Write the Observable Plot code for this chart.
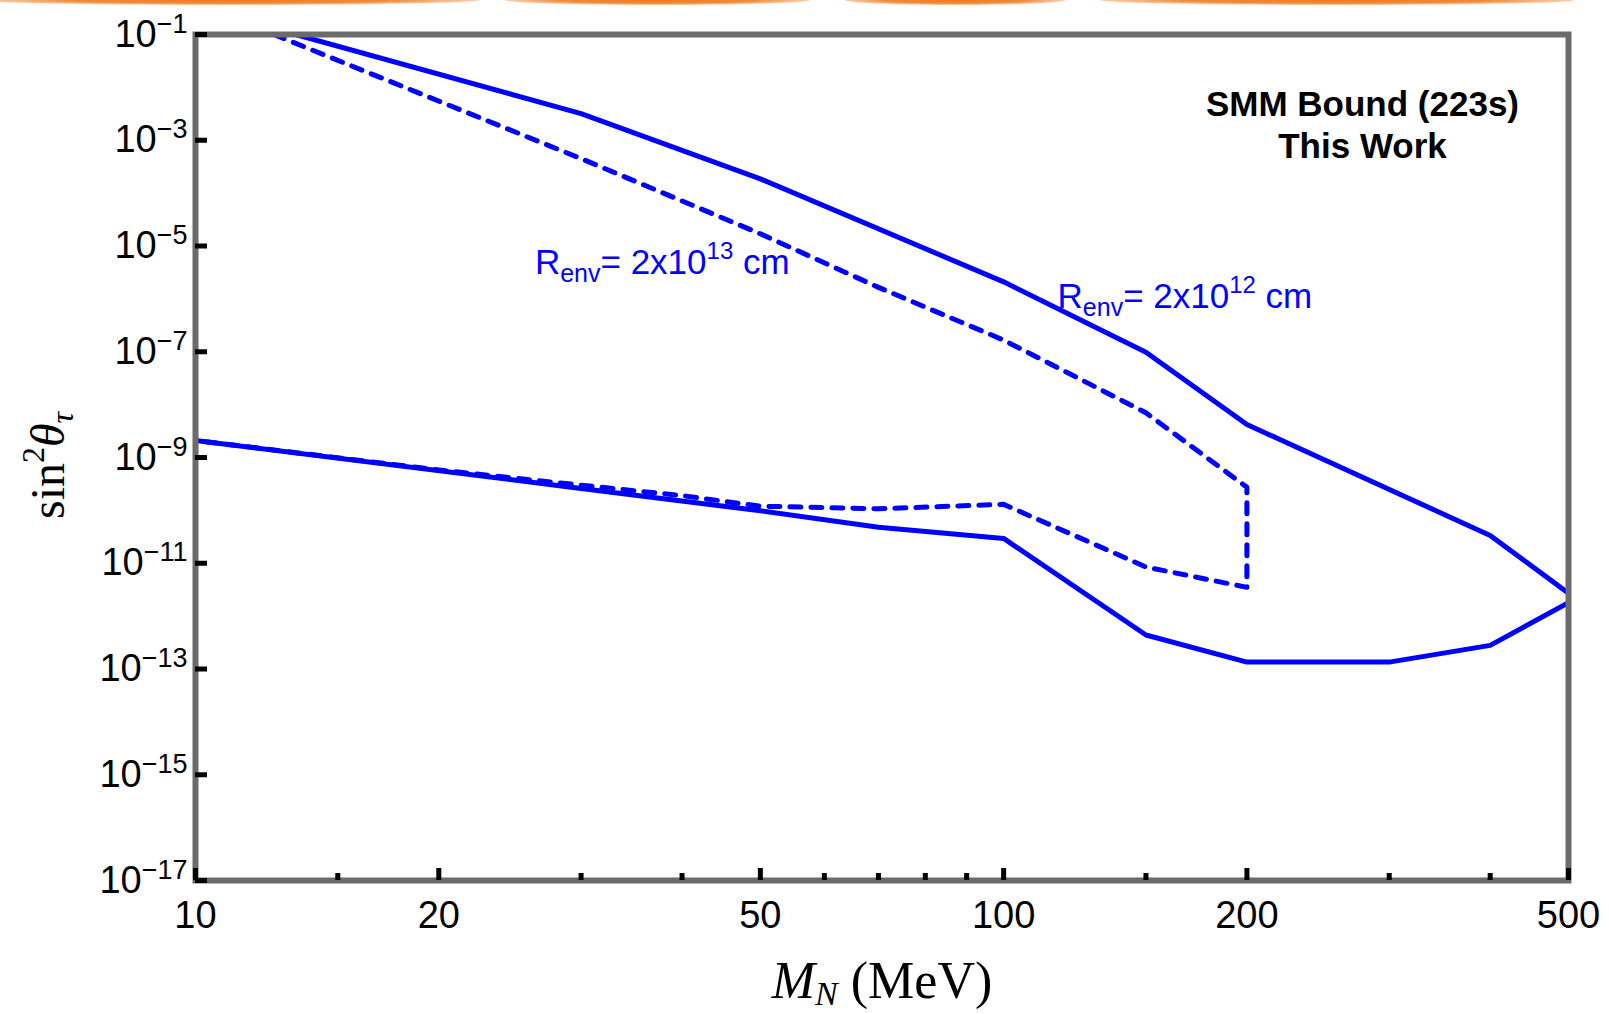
<!DOCTYPE html>
<html>
<head>
<meta charset="utf-8">
<script src="https://cdn.jsdelivr.net/npm/d3@7"></script>
<script src="https://cdn.jsdelivr.net/npm/@observablehq/plot@0.6"></script>
<style>
html, body { margin: 0; padding: 0; background: #fff; }
#wrap { position: relative; width: 1609px; height: 1014px; overflow: hidden; background: #fff; }
.orange { position: absolute; top: -5px; height: 10px; border-radius: 50%;
  background: radial-gradient(ellipse at center, #ef7a22 0%, #f08a3a 45%, rgba(245,150,80,0.35) 75%, rgba(255,255,255,0) 100%); }
</style>
</head>
<body>
<div id="wrap"></div>
<script>
// ---- data ----
// solid curve: R_env = 2x10^12 cm
const massSolidUpper = [13.3, 30, 50, 100, 150, 200, 400, 500];
const sinSolidUpper  = [1e-1, 3.2e-3, 1.86e-4, 2.1e-6, 9.8e-8, 4.2e-9, 3.35e-11, 2.7e-12];
const massSolidLower = [10, 30, 50, 70, 100, 150, 200, 300, 400, 500];
const sinSolidLower  = [2.1e-9, 2.6e-10, 9.8e-11, 4.8e-11, 2.95e-11, 4.4e-13, 1.35e-13, 1.35e-13, 2.8e-13, 1.8e-12];
// dashed curve: R_env = 2x10^13 cm (upper branch, vertical cut at 200, lower branch back to 10)
const massDashed = [12.5, 30, 50, 70, 100, 150, 200, 200, 150, 100, 70, 50, 40, 30, 20, 10];
const sinDashed  = [1e-1, 4.5e-4, 1.7e-5, 1.65e-6, 1.66e-7, 7e-9, 2.74e-10, 3.5e-12, 8.5e-12, 1.3e-10, 1.07e-10, 1.2e-10, 1.9e-10, 3e-10, 5.8e-10, 2.1e-9];

// axis ticks
const xMajor = [10, 20, 50, 100, 200, 500];
const xMinor = [15, 30, 40, 60, 70, 80, 90, 150, 300, 400];
const yTicks = [1e-1, 1e-3, 1e-5, 1e-7, 1e-9, 1e-11, 1e-13, 1e-15, 1e-17];

// annotations (data coordinates)
const smmLines = [
  {m: 278, s: 4.6e-3, t: "SMM Bound (223s)"},
  {m: 278, s: 7.4e-4, t: "This Work"}
];
const renvLabels = [
  {m: 26.3, s: 3.0e-6, exp: "13"},
  {m: 116.6, s: 6.6e-7, exp: "12"}
];

// ---- layout ----
const W = 1609, H = 1014;
const mT = 34, mR = 41, mB = 134, mL = 195;
const plotW = W - mL - mR, plotH = H - mT - mB;
const blue = "#0000ff";
const sans = "'Liberation Sans', Arial, Helvetica, sans-serif";
const serif = "'Liberation Serif', 'Times New Roman', serif";

const toRows = (xs, ys) => xs.map((m, i) => ({m, s: ys[i]}));

const chart = Plot.plot({
  width: W, height: H,
  marginTop: mT, marginRight: mR, marginBottom: mB, marginLeft: mL,
  style: {fontFamily: sans, background: "white", overflow: "visible", color: "black"},
  x: {type: "log", domain: [10, 500]},
  y: {type: "log", domain: [1e-17, 1e-1]},
  marks: [
    Plot.line(toRows(massSolidUpper, sinSolidUpper), {x: "m", y: "s", stroke: blue, strokeWidth: 5, clip: true}),
    Plot.line(toRows(massSolidLower, sinSolidLower), {x: "m", y: "s", stroke: blue, strokeWidth: 5, clip: true}),
    Plot.line(toRows(massDashed, sinDashed), {x: "m", y: "s", stroke: blue, strokeWidth: 5, strokeDasharray: "11,10", clip: true}),
    Plot.frame({stroke: "#6b6b6b", strokeWidth: 6}),
    Plot.tickX(xMajor, {x: d => d, stroke: "black", strokeWidth: 5, insetTop: plotH - 12}),
    Plot.tickX(xMinor, {x: d => d, stroke: "black", strokeWidth: 5, insetTop: plotH - 7}),
    Plot.tickY(yTicks, {y: d => d, stroke: "black", strokeWidth: 5, insetRight: plotW - 12}),
    Plot.axisX(xMajor, {tickSize: 0, tickPadding: 21, tickFormat: d => String(d), fontSize: 38, fontFamily: sans, label: null}),
    Plot.axisY(yTicks, {tickSize: 0, tickPadding: 8, tickFormat: d => "10^" + Math.round(Math.log10(d)), fontSize: 38, fontFamily: sans, label: null}),
    Plot.text(smmLines, {x: "m", y: "s", text: "t", fontSize: 35, fontWeight: "bold", fontFamily: sans, textAnchor: "middle", lineAnchor: "middle", fill: "black"}),
    Plot.text(renvLabels, {x: "m", y: "s", text: d => "Renv= 2x10^" + d.exp + " cm", fontSize: 35, fontFamily: sans, textAnchor: "start", lineAnchor: "bottom", fill: blue}),
    Plot.text(["M_N (MeV)"], {frameAnchor: "bottom", dy: 117, text: d => d, fontSize: 52, fontFamily: serif, textAnchor: "middle", lineAnchor: "bottom", fill: "black"}),
    Plot.text(["sin^2θ_τ"], {frameAnchor: "left", dx: -132, dy: 8, text: d => d, rotate: -90, fontSize: 48, fontFamily: serif, textAnchor: "middle", lineAnchor: "bottom", fill: "black"})
  ]
});

// ---- rich text (super/subscripts) ----
const NS = "http://www.w3.org/2000/svg";
function rich(el, parts) {
  el.textContent = "";
  let cur = 0;
  for (const p of parts) {
    const ts = document.createElementNS(NS, "tspan");
    const target = p.shift || 0;
    if (target !== cur) ts.setAttribute("dy", target - cur);
    cur = target;
    if (p.size) ts.setAttribute("font-size", p.size);
    if (p.italic) ts.setAttribute("font-style", "italic");
    ts.textContent = p.t;
    el.appendChild(ts);
  }
}

d3.select(chart).selectAll("text").each(function () {
  const s = this.textContent;
  let m;
  if ((m = s.match(/^10\^(-?\d+)$/))) {
    rich(this, [{t: "10"}, {t: m[1].replace("-", "\u2212"), size: 27, shift: -14}]);
  } else if ((m = s.match(/^Renv= 2x10\^(\d+) cm$/))) {
    rich(this, [{t: "R"}, {t: "env", size: 25, shift: 8}, {t: "= 2x10"}, {t: m[1], size: 24, shift: -15}, {t: " cm"}]);
  } else if (s === "M_N (MeV)") {
    rich(this, [{t: "M", italic: true}, {t: "N", italic: true, size: 34, shift: 7}, {t: " (MeV)"}]);
  } else if (s === "sin^2θ_τ") {
    rich(this, [{t: "sin"}, {t: "2", size: 32, shift: -20}, {t: "θ", italic: true}, {t: "τ", italic: true, size: 32, shift: 9}]);
  }
});

const wrap = document.getElementById("wrap");
wrap.appendChild(chart);

// decorative orange strip at the top edge (cropped slide artwork)
const orangeSegs = [[-20, 480], [505, 810], [845, 1065], [1100, 1575]];
for (const [a, b] of orangeSegs) {
  const d = document.createElement("div");
  d.className = "orange";
  d.style.left = a + "px";
  d.style.width = (b - a) + "px";
  wrap.appendChild(d);
}
</script>
</body>
</html>
